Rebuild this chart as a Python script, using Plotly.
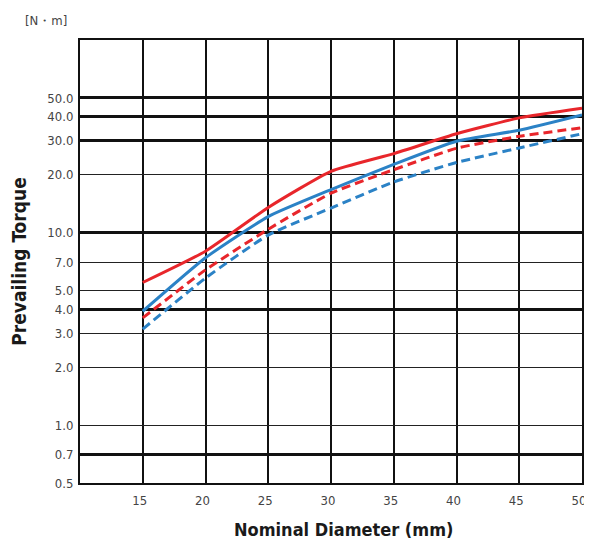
import plotly.graph_objects as go
import math

diameters = [15, 20, 25, 30, 35, 40, 45, 50]
red_solid = [5.5, 8.0, 13.5, 20.8, 25.7, 32.6, 39.4, 44.2]
blue_solid = [3.9, 7.4, 12.1, 16.7, 22.6, 29.8, 34.0, 40.8]
red_dashed = [3.6, 6.4, 10.4, 16.0, 21.2, 27.4, 31.6, 35.0]
blue_dashed = [3.15, 5.8, 9.7, 13.4, 18.3, 23.1, 27.5, 32.6]

y_ticks = [0.5, 0.7, 1.0, 2.0, 3.0, 4.0, 5.0, 7.0, 10.0, 20.0, 30.0, 40.0, 50.0]
y_tick_labels = ["0.5", "0.7", "1.0", "2.0", "3.0", "4.0", "5.0", "7.0", "10.0", "20.0", "30.0", "40.0", "50.0"]
y_thick = [0.7, 4.0, 10.0, 30.0, 40.0, 50.0]
x_ticks = [15, 20, 25, 30, 35, 40, 45, 50]

RED = "#e8262b"
BLUE = "#2b82c6"
FONT = "DejaVu Sans Condensed, Liberation Sans Narrow, Arial Narrow, sans-serif"

fig = go.Figure()
series = [
    (red_solid, RED, "solid"),
    (blue_solid, BLUE, "solid"),
    (red_dashed, RED, "9px,5px"),
    (blue_dashed, BLUE, "9px,5px"),
]
for vals, col, dash in series:
    fig.add_trace(go.Scatter(x=diameters, y=vals, mode="lines",
                             line=dict(color=col, width=3, dash=dash, shape="spline", smoothing=0.5),
                             showlegend=False, hoverinfo="skip"))

# invisible trace to activate thick-grid overlay axis
fig.add_trace(go.Scatter(x=[diameters[0]], y=[y_thick[0]], yaxis="y2", mode="markers",
                         marker=dict(opacity=0), showlegend=False, hoverinfo="skip"))

yr = [math.log10(0.5), 2]
fig.update_layout(
    width=584, height=537,
    margin=dict(l=72, r=10, t=32, b=62),
    plot_bgcolor="white", paper_bgcolor="white",
    font=dict(family=FONT, color="#444"),
    xaxis=dict(range=[10, 50], tickvals=x_ticks, showgrid=True, gridcolor="#111",
               gridwidth=2, showline=True, linecolor="#111", linewidth=2, mirror=True,
               ticks="", zeroline=False, tickfont=dict(size=13, color="#444"), automargin=False,
               ticklabelstandoff=4, ticklabelshift=-3),
    yaxis=dict(type="log", range=yr, tickvals=y_ticks, ticktext=y_tick_labels,
               showgrid=True, gridcolor="#222", gridwidth=1.3, showline=True,
               linecolor="#111", linewidth=2, mirror=True, ticks="", zeroline=False,
               tickfont=dict(size=13, color="#444"), ticklabelstandoff=2, automargin=False,
               title=dict(text="<b>Prevailing Torque</b>", font=dict(size=19, color="#1a1a1a"), standoff=18)),
    yaxis2=dict(type="log", range=yr, overlaying="y", tickvals=y_thick, showticklabels=False,
                showgrid=True, gridcolor="#111", gridwidth=2.6, ticks="", zeroline=False,
                showline=False, automargin=False),
    annotations=[
        dict(text="[N・m]", x=-0.113, y=1.0, xref="paper", yref="paper",
             xanchor="left", yanchor="bottom", yshift=10, showarrow=False,
             font=dict(size=13, color="#444", family=FONT)),
        dict(text="<b>Nominal Diameter (mm)</b>", x=0.5, y=0, xref="paper", yref="paper",
             xanchor="center", yanchor="top", xshift=12, yshift=-34, showarrow=False,
             font=dict(size=18, color="#1a1a1a", family=FONT)),
    ],
)
fig.write_html("out.html")
